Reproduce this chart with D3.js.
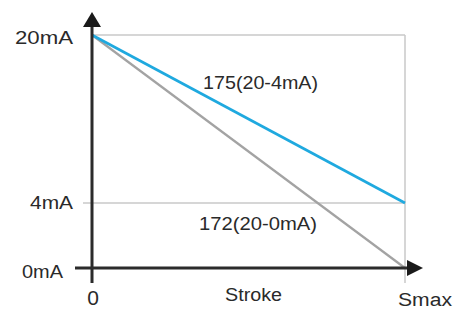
<!DOCTYPE html>
<html><head><meta charset="utf-8">
<script src="https://cdn.jsdelivr.net/npm/d3@7"></script>
<style>html,body{margin:0;padding:0;background:#fff;}svg{display:block;}</style>
</head><body>
<svg id="chart" width="467" height="309"></svg>
<script>
// Data
const strokeDomain = [0, 1];               // 0 .. Smax
const strokeLabels = ["0", "Smax"];
const yTickValues = [0, 4, 20];
const yTickLabels = ["0mA", "4mA", "20mA"];
const series175 = [20, 4];                 // 175(20-4mA)
const series172 = [20, 0];                 // 172(20-0mA)
const seriesNames = ["175(20-4mA)", "172(20-0mA)"];
const xAxisTitle = "Stroke";

const svg = d3.select("#chart");
const font = "'Liberation Sans', Arial, sans-serif";
const textColor = "#2a2a2a";
const fs = 18;

const x = d3.scaleLinear().domain(strokeDomain).range([92, 405]);
// schematic (not to scale) current axis
const y = d3.scaleLinear().domain([0, 4, 20]).range([268, 203, 35]);

// grid lines
const grid = svg.append("g").attr("stroke", "#c9c9c9").attr("stroke-width", 1.5).attr("fill", "none");
grid.append("line").attr("x1", x(0)).attr("x2", x(1)).attr("y1", y(20)).attr("y2", y(20));
grid.append("line").attr("x1", x(0) - 9).attr("x2", x(1)).attr("y1", y(4)).attr("y2", y(4));
grid.append("line").attr("x1", x(1)).attr("x2", x(1)).attr("y1", y(20)).attr("y2", y(0) + 15);

// series lines
const line = d3.line().x((d, i) => x(strokeDomain[i])).y(d => y(d));
svg.append("path").datum(series172).attr("d", line)
  .attr("fill", "none").attr("stroke", "#a3a3a3").attr("stroke-width", 2.2);
svg.append("path").datum(series175).attr("d", line)
  .attr("fill", "none").attr("stroke", "#1fa9df").attr("stroke-width", 2.6);

// axes
const axisColor = "#2b2b2b";
svg.append("line").attr("x1", x(0)).attr("x2", x(0)).attr("y1", y(0) + 15).attr("y2", 26)
  .attr("stroke", axisColor).attr("stroke-width", 3);
svg.append("line").attr("x1", x(0) - 17).attr("x2", x(1) + 2).attr("y1", y(0)).attr("y2", y(0))
  .attr("stroke", axisColor).attr("stroke-width", 3);
svg.append("path").attr("d", `M${x(0)},12 L${x(0) + 9},27 L${x(0) - 9},27 Z`).attr("fill", "#1a1a1a");
svg.append("path").attr("d", `M${x(1) + 18},${y(0)} L${x(1) + 2},${y(0) - 8} L${x(1) + 2},${y(0) + 8} Z`).attr("fill", "#1a1a1a");

// y tick labels
const yLabelPos = {0: {end: 63, dy: 10, w: 41}, 4: {end: 73, dy: 6, w: 43}, 20: {end: 73, dy: 9, w: 58}};
yTickValues.forEach((v, i) => {
  const p = yLabelPos[v];
  svg.append("text").attr("x", p.end - p.w).attr("y", y(v) + p.dy)
    .attr("font-family", font).attr("font-size", fs).attr("fill", textColor)
    .attr("textLength", p.w).attr("lengthAdjust", "spacingAndGlyphs")
    .text(yTickLabels[i]);
});

// x labels
svg.append("text").attr("x", x(0) + 1).attr("y", 305).attr("text-anchor", "middle")
  .attr("font-family", font).attr("font-size", 21).attr("fill", textColor).text(strokeLabels[0]);
svg.append("text").attr("x", 398).attr("y", 306)
  .attr("font-family", font).attr("font-size", fs).attr("fill", textColor)
  .attr("textLength", 54).attr("lengthAdjust", "spacingAndGlyphs").text(strokeLabels[1]);
svg.append("text").attr("x", 225).attr("y", 301)
  .attr("font-family", font).attr("font-size", fs).attr("fill", textColor)
  .attr("textLength", 57).attr("lengthAdjust", "spacingAndGlyphs").text(xAxisTitle);

// series labels
svg.append("text").attr("x", 203).attr("y", 89)
  .attr("font-family", font).attr("font-size", fs).attr("fill", textColor)
  .attr("textLength", 115).attr("lengthAdjust", "spacingAndGlyphs").text(seriesNames[0]);
svg.append("text").attr("x", 199).attr("y", 230)
  .attr("font-family", font).attr("font-size", fs).attr("fill", textColor)
  .attr("textLength", 118).attr("lengthAdjust", "spacingAndGlyphs").text(seriesNames[1]);
</script>
</body></html>
